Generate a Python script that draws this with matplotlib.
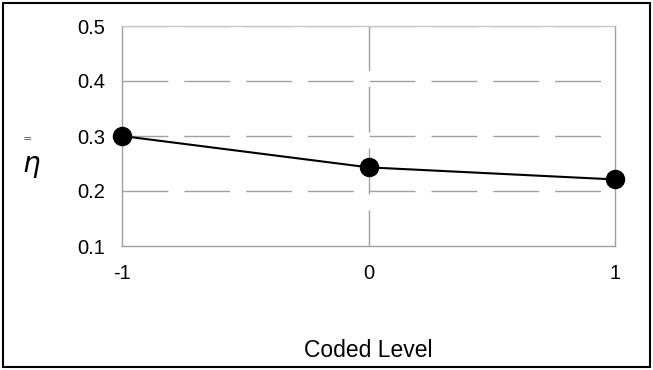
import matplotlib
matplotlib.use("Agg")
import matplotlib.pyplot as plt
from matplotlib.patches import Rectangle

plt.rcParams['font.family'] = ['Liberation Sans', 'DejaVu Sans']

levels = [-1, 0, 1]
eta_values = [0.300, 0.243, 0.221]
y_ticks = [0.1, 0.2, 0.3, 0.4, 0.5]
x_ticks = [-1, 0, 1]

fig = plt.figure(figsize=(6.53, 3.70), dpi=100)
ax = fig.add_axes([122 / 653, 1 - 246 / 370, (615 - 122) / 653, (246 - 26) / 370])

grid_color = '#a0a0a0'
dash = (0, (33, 11.5))

# dashed horizontal grid
for yv in y_ticks[1:]:
    ax.axhline(yv, color=grid_color, lw=1.0, linestyle=dash, zorder=1)
# dashed vertical grid at the centre level
ax.plot([0, 0], [0.1, 0.5], color=grid_color, lw=1.0,
        linestyle=(7, (33, 11.5)), zorder=1)

ax.plot(levels, eta_values, color='black', lw=1.5, marker='o',
        markersize=13, markerfacecolor='black', markeredgecolor='black',
        zorder=3, clip_on=False)

ax.set_xlim(-1, 1)
ax.set_ylim(0.1, 0.5)
ax.set_xticks(x_ticks)
ax.set_xticklabels([str(v) for v in x_ticks])
ax.set_yticks(y_ticks)
ax.set_yticklabels([f"{v:.1f}" for v in y_ticks])
ax.tick_params(length=0, labelsize=14.5, colors='black')
ax.tick_params(axis='y', pad=12)
ax.tick_params(axis='x', pad=13)

for side in ['left', 'right', 'bottom']:
    ax.spines[side].set_color(grid_color)
    ax.spines[side].set_linewidth(1.0)
ax.spines['top'].set_color('#c8c8c8')
ax.spines['top'].set_linewidth(1.0)

ax.set_xlabel('Coded Level', fontsize=16.5, labelpad=40)

# y-axis symbol: eta with a double bar above
fig.text(28 / 653, 1 - 139 / 370, '=', fontsize=8, ha='center', va='center',
         color='#555555', family=['DejaVu Sans'])
fig.text(31 / 653, 1 - 167 / 370, r'$\eta$', fontsize=20, ha='center', va='center')

# outer frame
fig.patches.append(Rectangle((3 / 653, 3 / 370), 647 / 653, 364 / 370,
                             transform=fig.transFigure, fill=False,
                             edgecolor='black', linewidth=1.5))

fig.savefig('out.png', dpi=100)
